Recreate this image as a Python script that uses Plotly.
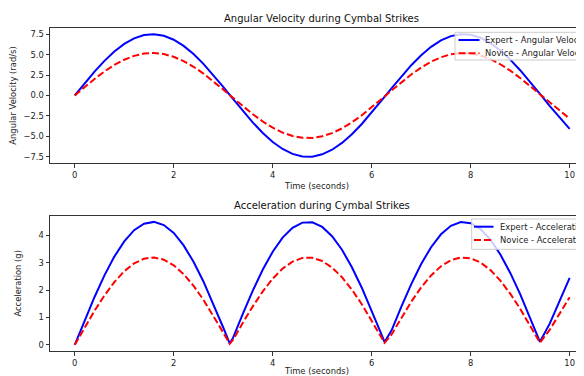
import plotly.graph_objects as go

# Time samples (seconds)
time_s = [0.0, 0.2, 0.4, 0.6, 0.8, 1.0, 1.2, 1.4, 1.6, 1.8, 2.0, 2.2, 2.4, 2.6, 2.8, 3.0, 3.13,
          3.2, 3.4, 3.6, 3.8, 4.0, 4.2, 4.4, 4.6, 4.8, 5.0, 5.2, 5.4, 5.6, 5.8, 6.0, 6.2, 6.26,
          6.4, 6.6, 6.8, 7.0, 7.2, 7.4, 7.6, 7.8, 8.0, 8.2, 8.4, 8.6, 8.8, 9.0, 9.2, 9.39,
          9.4, 9.6, 9.8, 10.0]

expert_angvel = [0.0, 1.490, 2.921, 4.235, 5.381, 6.311, 6.990, 7.391, 7.497, 7.304, 6.820, 6.064,
                 5.066, 3.866, 2.513, 1.058, 0.087, -0.438, -1.916, -3.319, -4.589, -5.676, -6.537,
                 -7.137, -7.453, -7.472, -7.192, -6.626, -5.796, -4.735, -3.485, -2.096, -0.623,
                 -0.174, 0.874, 2.336, 3.706, 4.928, 5.953, 6.740, 7.259, 7.489, 7.421, 7.055,
                 6.410, 5.508, 4.387, 3.091, 1.672, 0.261, 0.186, -1.307, -2.749, -4.080]

novice_angvel = [0.0, 1.033, 2.025, 2.936, 3.730, 4.376, 4.846, 5.124, 5.198, 5.064, 4.728, 4.204,
                 3.513, 2.681, 1.742, 0.734, 0.060, -0.304, -1.329, -2.301, -3.182, -3.935, -4.532,
                 -4.948, -5.167, -5.180, -4.986, -4.594, -4.019, -3.283, -2.416, -1.453, -0.432,
                 -0.121, 0.606, 1.620, 2.569, 3.416, 4.127, 4.673, 5.033, 5.192, 5.145, 4.892,
                 4.444, 3.819, 3.041, 2.143, 1.159, 0.181, 0.129, -0.906, -1.906, -2.829]

expert_accel = [0.0, 0.894, 1.752, 2.541, 3.228, 3.787, 4.194, 4.434, 4.498, 4.382, 4.092, 3.638,
                3.040, 2.320, 1.508, 0.635, 0.052, 0.263, 1.150, 1.991, 2.754, 3.406, 3.922, 4.282,
                4.472, 4.483, 4.315, 3.976, 3.478, 2.841, 2.091, 1.257, 0.374, 0.104, 0.524, 1.402,
                2.223, 2.957, 3.572, 4.044, 4.356, 4.493, 4.452, 4.233, 3.846, 3.305, 2.632, 1.854,
                1.003, 0.157, 0.112, 0.784, 1.649, 2.448]

novice_accel = [0.0, 0.636, 1.246, 1.807, 2.296, 2.693, 2.982, 3.153, 3.199, 3.116, 2.910, 2.587,
                2.162, 1.650, 1.072, 0.452, 0.037, 0.187, 0.818, 1.416, 1.958, 2.422, 2.789, 3.045,
                3.180, 3.188, 3.068, 2.827, 2.473, 2.020, 1.487, 0.894, 0.266, 0.074, 0.373, 0.997,
                1.581, 2.102, 2.540, 2.876, 3.097, 3.195, 3.166, 3.010, 2.735, 2.350, 1.872, 1.319,
                0.713, 0.111, 0.079, 0.558, 1.173, 1.741]

x_ticks = [0, 2, 4, 6, 8, 10]
vel_ticks = [-7.5, -5.0, -2.5, 0.0, 2.5, 5.0, 7.5]
acc_ticks = [0, 1, 2, 3, 4]

vel_series_names = ["Expert - Angular Velocity", "Novice - Angular Velocity"]
acc_series_names = ["Expert - Acceleration", "Novice - Acceleration"]

FONT = "DejaVu Sans"
FS = 8.4          # tick / label / legend size
FS_TITLE = 10     # subplot title size
BLUE = "#0000ff"
RED = "#ff0000"
DASH = "7px,3px"

# The page adds an 8px body margin, so the figure is 8px smaller than the window
W, H = 576, 368
ML, MT, MB = 42, 20, 25
PW = W - ML
PH = H - MT - MB


def px(page_x):
    """page pixel x -> paper x"""
    return (page_x - 8 - ML) / PW


def py(page_y):
    """page pixel y -> paper y"""
    return (H - MB - (page_y - 8)) / PH


fig = go.Figure()
fig.add_trace(go.Scatter(x=time_s, y=expert_angvel, mode="lines", name=vel_series_names[0],
                         line=dict(color=BLUE, width=2), xaxis="x", yaxis="y"))
fig.add_trace(go.Scatter(x=time_s, y=novice_angvel, mode="lines", name=vel_series_names[1],
                         line=dict(color=RED, width=2, dash=DASH), xaxis="x", yaxis="y"))
fig.add_trace(go.Scatter(x=time_s, y=expert_accel, mode="lines", name=acc_series_names[0],
                         line=dict(color=BLUE, width=2), xaxis="x2", yaxis="y2"))
fig.add_trace(go.Scatter(x=time_s, y=novice_accel, mode="lines", name=acc_series_names[1],
                         line=dict(color=RED, width=2, dash=DASH), xaxis="x2", yaxis="y2"))

axis_common = dict(showgrid=False, zeroline=False, showline=True, linecolor="#333333", linewidth=1,
                   ticks="outside", ticklen=3.5, tickwidth=1, tickcolor="#333333",
                   tickfont=dict(family=FONT, size=FS, color="#222222"), automargin=False)

shapes = []
annotations = [
    dict(text="Angular Velocity during Cymbal Strikes", x=px(321.5), y=py(18),
         xref="paper", yref="paper", xanchor="center", yanchor="middle", showarrow=False,
         font=dict(family=FONT, size=FS_TITLE, color="#111111")),
    dict(text="Acceleration during Cymbal Strikes", x=px(321.5), y=py(205.5),
         xref="paper", yref="paper", xanchor="center", yanchor="middle", showarrow=False,
         font=dict(family=FONT, size=FS_TITLE, color="#111111")),
]

# matplotlib-style legends (compact rows), one per subplot
legend_specs = [
    dict(box=(455, 32.3, 60.0), line=(458.5, 479.5), text_x=482.5, rows=(40.0, 53.3),
         names=vel_series_names),
    dict(box=(471.7, 219.0, 249.3), line=(474.0, 493.5), text_x=498.0, rows=(226.7, 240.0),
         names=acc_series_names),
]
styles = [dict(color=BLUE, width=2), dict(color=RED, width=2, dash=DASH)]
for spec in legend_specs:
    bx, btop, bbot = spec["box"]
    shapes.append(dict(type="rect", xref="paper", yref="paper", x0=px(bx), x1=1.06,
                       y0=py(bbot), y1=py(btop), fillcolor="rgba(255,255,255,0.8)",
                       line=dict(color="#cccccc", width=1), layer="above"))
    for name, row, st in zip(spec["names"], spec["rows"], styles):
        shapes.append(dict(type="line", xref="paper", yref="paper", x0=px(spec["line"][0]),
                           x1=px(spec["line"][1]), y0=py(row), y1=py(row), line=st, layer="above"))
        annotations.append(dict(text=name, x=px(spec["text_x"]), y=py(row), xref="paper",
                                yref="paper", xanchor="left", yanchor="middle", showarrow=False,
                                font=dict(family=FONT, size=FS, color="#222222")))

fig.update_layout(
    width=W, height=H,
    margin=dict(l=ML, r=0, t=MT, b=MB, autoexpand=False),
    plot_bgcolor="white", paper_bgcolor="white",
    font=dict(family=FONT, size=FS, color="#222222"),
    showlegend=False,
    xaxis=dict(domain=[0, 1], range=[-0.5, 10.29], tickvals=x_ticks, mirror=True, anchor="y",
               title=dict(text="Time (seconds)", font=dict(family=FONT, size=FS), standoff=4),
               **axis_common),
    yaxis=dict(domain=[py(163), 1], range=[-8.25, 8.25], tickvals=vel_ticks, tickformat=".1f",
               anchor="x", title=dict(text="Angular Velocity (rad/s)", font=dict(family=FONT, size=FS)),
               **axis_common),
    xaxis2=dict(domain=[0, 1], range=[-0.5, 10.29], tickvals=x_ticks, mirror=True, anchor="y2",
                title=dict(text="Time (seconds)", font=dict(family=FONT, size=FS), standoff=4),
                **axis_common),
    yaxis2=dict(domain=[0, py(215.7)], range=[-0.225, 4.725], tickvals=acc_ticks, anchor="x2",
                title=dict(text="Acceleration (g)", font=dict(family=FONT, size=FS)),
                **axis_common),
    shapes=shapes,
    annotations=annotations,
)

fig.write_html("out.html")
